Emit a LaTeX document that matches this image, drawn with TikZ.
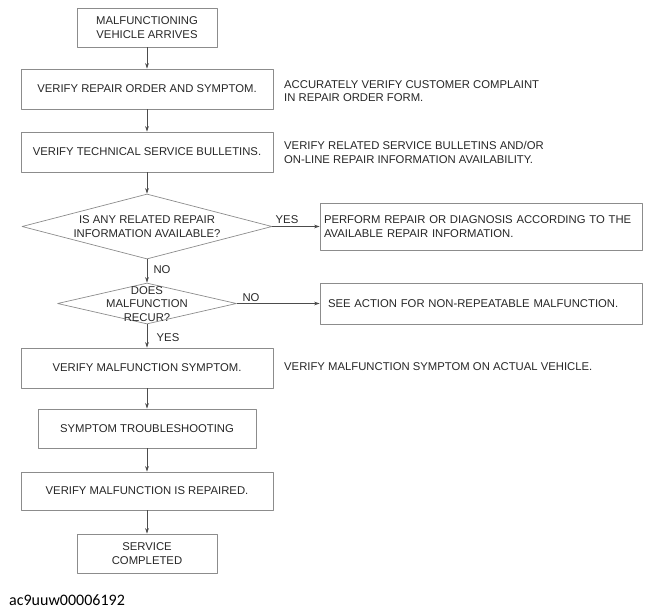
\documentclass[tikz,border=0pt]{standalone}
\usepackage{fontspec}
\setmainfont{Liberation Sans}
\newfontfamily\idfont{Carlito}
\usetikzlibrary{shapes.geometric,arrows.meta}
\begin{document}
\begin{tikzpicture}[x=1pt,y=-1pt,>={Stealth[length=5.5pt,width=3.6pt]}, line join=round,
    font=\fontsize{11.3}{13.5}\selectfont, text=black!85,
    box/.style={draw=black!45, line width=0.7pt, rectangle, align=center, inner sep=0pt},
    dia/.style={draw=black!45, line width=0.7pt, diamond, inner sep=0pt},
    flow/.style={->, draw=black!70, line width=0.6pt},
    side/.style={anchor=west, align=left, inner sep=0pt},
    lbl/.style={inner sep=0pt}]
    \useasboundingbox (0,0) rectangle (651,614);
    % main column
    \node[box, minimum width=140pt, minimum height=39pt] (arrive) at (147,27.5) {MALFUNCTIONING\\VEHICLE ARRIVES};
    \node[box, minimum width=252pt, minimum height=40pt] (order) at (147,89) {VERIFY REPAIR ORDER AND SYMPTOM.};
    \node[box, minimum width=252pt, minimum height=40pt] (tsb) at (147,152) {VERIFY TECHNICAL SERVICE BULLETINS.};
    \node[dia, minimum width=250pt, minimum height=65pt] (info) at (147,226.5) {};
    \node[lbl, align=center] (infotxt) at (147,226.5) {IS ANY RELATED REPAIR\\INFORMATION AVAILABLE?};
    \node[dia, minimum width=179pt, minimum height=41pt] (recur) at (147,303.5) {};
    \node[lbl, align=center] (recurtxt) at (147,304) {DOES\\MALFUNCTION\\RECUR?};
    \node[box, minimum width=252pt, minimum height=40pt] (symptom) at (147,368) {VERIFY MALFUNCTION SYMPTOM.};
    \node[box, minimum width=218pt, minimum height=39pt] (trouble) at (147,428.5) {SYMPTOM TROUBLESHOOTING};
    \node[box, minimum width=252pt, minimum height=38pt] (repaired) at (147,491) {VERIFY MALFUNCTION IS REPAIRED.};
    \node[box, minimum width=140pt, minimum height=39pt] (done) at (147,553.5) {SERVICE\\COMPLETED};
    % right column
    \node[box, minimum width=322pt, minimum height=47pt, text width=314pt, align=left] (perform) at (481,226.5) {PERFORM REPAIR OR DIAGNOSIS ACCORDING TO THE\\AVAILABLE REPAIR INFORMATION.};
    \node[box, minimum width=322pt, minimum height=41pt, text width=306pt, align=left] (action) at (481,303.5) {SEE ACTION FOR NON-REPEATABLE MALFUNCTION.};
    % notes
    \node[side] (ordernote) at (284,91) {ACCURATELY VERIFY CUSTOMER COMPLAINT\\IN REPAIR ORDER FORM.};
    \node[side] (tsbnote) at (284,152.5) {VERIFY RELATED SERVICE BULLETINS AND/OR\\ON-LINE REPAIR INFORMATION AVAILABILITY.};
    \node[side] (symptomnote) at (284,367) {VERIFY MALFUNCTION SYMPTOM ON ACTUAL VEHICLE.};
    % connectors
    \draw[flow] (arrive) -- (order);
    \draw[flow] (order) -- (tsb);
    \draw[flow] (tsb) -- (info);
    \draw[flow] (info) -- (recur);
    \draw[flow] (recur) -- (symptom);
    \draw[flow] (symptom) -- (trouble);
    \draw[flow] (trouble) -- (repaired);
    \draw[flow] (repaired) -- (done);
    \draw[flow] (info) -- (perform);
    \draw[flow] (recur) -- (action);
    \node[lbl] (yes1) at (287,219.5) {YES};
    \node[lbl] (no1) at (162,269.5) {NO};
    \node[lbl] (no2) at (251,297.5) {NO};
    \node[lbl] (yes2) at (168,337.5) {YES};
    \node[anchor=west, inner sep=0pt, text=black, font=\idfont\fontsize{16}{18}\selectfont] (id) at (9,600) {ac9uuw00006192};
\end{tikzpicture}
\end{document}
